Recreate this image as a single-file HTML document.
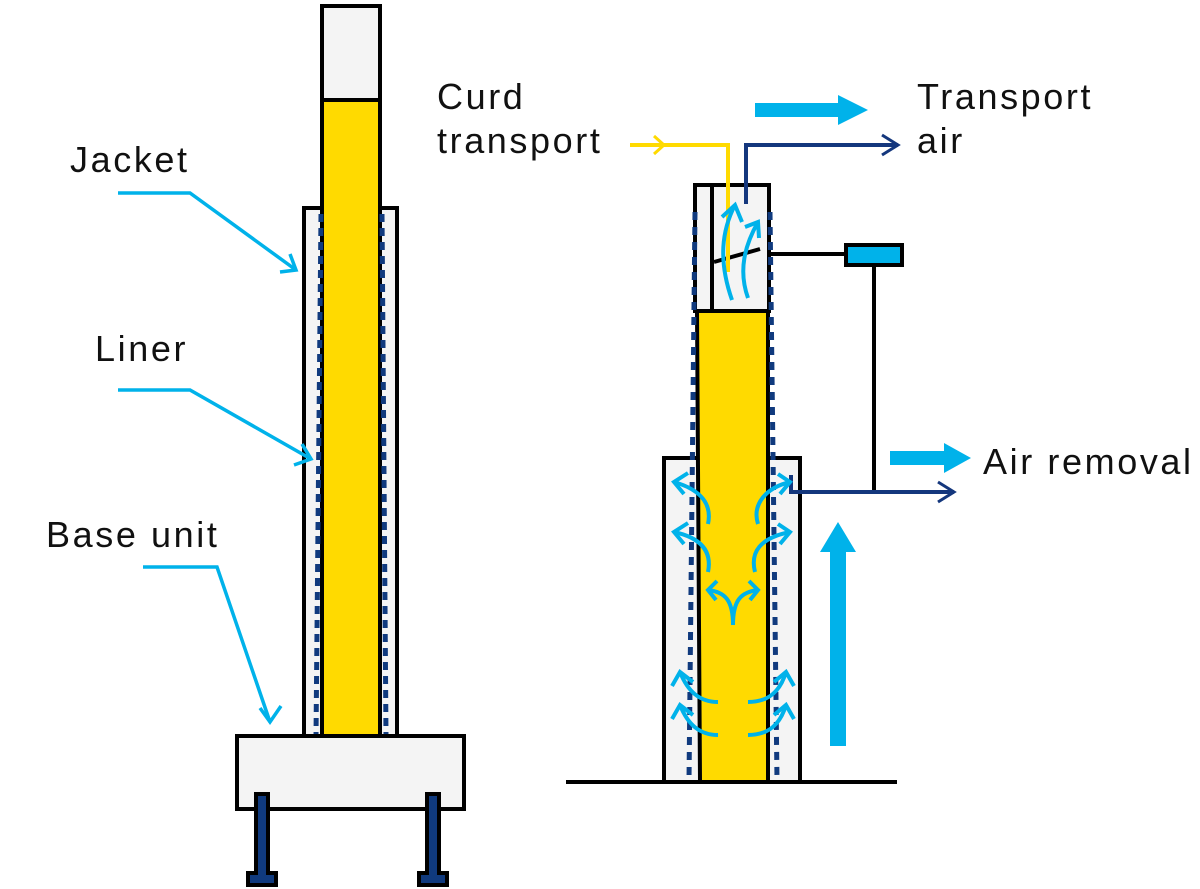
<!DOCTYPE html>
<html><head><meta charset="utf-8"><style>
html,body{margin:0;padding:0;background:#fff;}
svg{display:block;}
text{font-family:"Liberation Sans",sans-serif;font-size:36px;letter-spacing:2.6px;fill:#111;}
</style></head><body>
<svg width="1200" height="889" viewBox="0 0 1200 889" xmlns="http://www.w3.org/2000/svg">
<g stroke-linecap="butt" fill="none">
<!-- LEFT DEVICE -->
<rect x="304" y="208" width="93" height="529" fill="#f4f4f4" stroke="#000" stroke-width="4"/>
<rect x="322" y="6" width="58" height="95" fill="#f4f4f4" stroke="#000" stroke-width="4"/>
<rect x="322" y="100" width="58" height="637" fill="#FFDA00" stroke="#000" stroke-width="4"/>
<line x1="321" y1="214" x2="316" y2="736" stroke="#103A7E" stroke-width="5" stroke-dasharray="8,6"/>
<line x1="382" y1="214" x2="386" y2="736" stroke="#103A7E" stroke-width="5" stroke-dasharray="8,6"/>
<rect x="237" y="736" width="227" height="73" fill="#f4f4f4" stroke="#000" stroke-width="4"/>
<!-- legs -->
<g fill="#103A7E" stroke="#000" stroke-width="4">
<path d="M256 794 H268 V873 H276 V885 H248 V873 H256 Z"/>
<path d="M427 794 H439 V873 H447 V885 H419 V873 H427 Z"/>
</g>
<!-- left labels pointers -->
<g stroke="#00B2EA" stroke-width="3.5">
<polyline points="118,193 190,193 296,270"/>
<polyline points="280,272 296,270 290,254"/>
<polyline points="118,390 190,390 311,459"/>
<polyline points="294,465 311,459 302,444"/>
<polyline points="143,567 217,567 270,722"/>
<polyline points="260,708 270,722 281,706"/>
</g>

<!-- RIGHT DEVICE -->
<line x1="566" y1="782" x2="897" y2="782" stroke="#000" stroke-width="4"/>
<rect x="664" y="458" width="136" height="324" fill="#f4f4f4" stroke="#000" stroke-width="4"/>
<rect x="695" y="185" width="74" height="126" fill="#f4f4f4" stroke="#000" stroke-width="4"/>
<line x1="712" y1="185" x2="712" y2="311" stroke="#000" stroke-width="4"/>
<path d="M697 311 H768 V782 H700 Z" fill="#FFDA00" stroke="#000" stroke-width="4"/>
<line x1="695" y1="212" x2="689" y2="780" stroke="#103A7E" stroke-width="5" stroke-dasharray="8,7"/>
<line x1="770" y1="212" x2="777" y2="780" stroke="#103A7E" stroke-width="5" stroke-dasharray="8,7"/>
<line x1="714" y1="262" x2="760" y2="249" stroke="#000" stroke-width="4"/>
<!-- sensor -->
<line x1="769" y1="254" x2="846" y2="254" stroke="#000" stroke-width="4"/>
<rect x="846" y="245" width="56" height="20" fill="#00B2EA" stroke="#000" stroke-width="4"/>
<line x1="874" y1="266" x2="874" y2="492" stroke="#000" stroke-width="4"/>
<!-- curd transport yellow -->
<polyline points="630,145 728,145 728,272" stroke="#FFDA00" stroke-width="4"/>
<polyline points="654,136 664,145 654,154" stroke="#FFDA00" stroke-width="3"/>
<!-- transport air -->
<polyline points="746,204 746,145 898,145" stroke="#14377D" stroke-width="4"/>
<polyline points="882,135 898,145 882,155" stroke="#14377D" stroke-width="3"/>
<!-- air removal -->
<polyline points="791,475 791,492 954,492" stroke="#14377D" stroke-width="4"/>
<polyline points="938,482 954,492 938,502" stroke="#14377D" stroke-width="3"/>
<!-- big arrows -->
<g fill="#00B2EA">
<path d="M755 103 H838 V95 L868 110 L838 125 V117 H755 Z"/>
<path d="M890 451 H944 V443 L971 458 L944 473 V465 H890 Z"/>
<path d="M830 746 V552 H820 L838 522 L856 552 H846 V746 Z"/>
</g>
<!-- flow arrows -->
<g stroke="#00B2EA" stroke-width="4">
<path d="M732 300 C718 260 722 230 735 205"/>
<polyline points="722,217 735,205 742,222"/>
<path d="M748 298 C738 270 745 245 758 222"/>
<polyline points="745,227 758,222 759,238"/>
<path d="M708 524 C712 505 702 490 674 482"/>
<polyline points="688,473 674,482 684,494"/>
<path d="M758 524 C752 505 765 488 790 482"/>
<polyline points="778,474 790,482 780,494"/>
<path d="M708 572 C712 552 702 538 674 532"/>
<polyline points="688,523 674,532 684,544"/>
<path d="M755 572 C750 552 760 538 790 532"/>
<polyline points="778,524 790,532 780,544"/>
<path d="M733 625 C733 600 725 592 708 590"/>
<path d="M733 625 C733 600 741 592 758 590"/>
<polyline points="717,581 708,590 716,600"/>
<polyline points="749,581 758,590 750,600"/>
<path d="M718 702 C700 702 688 692 680 672"/>
<polyline points="672,686 680,672 693,682"/>
<path d="M718 735 C700 735 688 725 680 705"/>
<polyline points="672,719 680,705 693,715"/>
<path d="M748 702 C768 702 780 692 786 672"/>
<polyline points="774,682 786,672 794,686"/>
<path d="M748 735 C768 735 780 725 786 705"/>
<polyline points="774,715 786,705 794,719"/>
</g>
</g>
<text x="70" y="172">Jacket</text>
<text x="95" y="361">Liner</text>
<text x="46" y="547">Base unit</text>
<text x="437" y="109">Curd</text>
<text x="437" y="153">transport</text>
<text x="917" y="109">Transport</text>
<text x="917" y="153">air</text>
<text x="983" y="474">Air removal</text>
</svg>
</body></html>
